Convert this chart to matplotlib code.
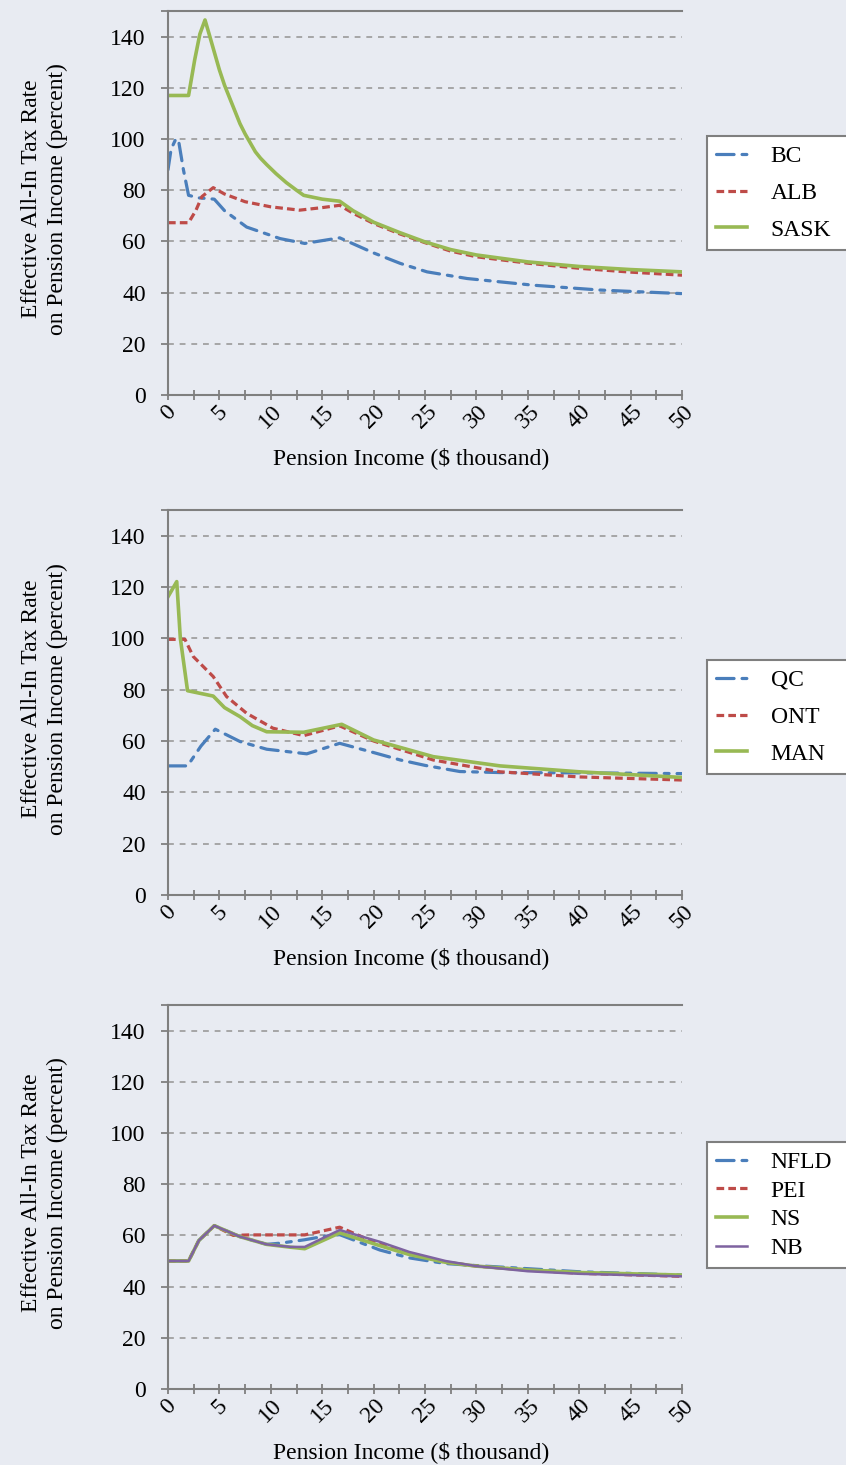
import matplotlib
matplotlib.use("Agg")
import matplotlib.pyplot as plt
import numpy as np

plt.rcParams['font.family'] = ['Liberation Serif', 'DejaVu Serif']

BG = '#e8ebf2'
AXC = '#7f7f7f'
GRID = '#9a9a9a'
BLUE = '#4a7ebb'
RED = '#be4b48'
GREEN = '#98b954'
PURPLE = '#7e63a0'

# ---- Panel 1 data ----
bc_x = [0, 0.3, 0.7, 1.0, 1.5, 2.0, 3.0, 4.5, 5.5, 7.65, 10.9, 13.3, 16.7, 20, 22.6, 25.2, 29.1, 35.5, 42, 50]
bc_y = [88, 96, 99.5, 100, 88, 78, 77, 76.5, 72, 65.6, 61.1, 59.2, 61.4, 55.5, 51.4, 48.1, 45.5, 42.9, 41, 39.6]
alb_x = [0, 2.0, 2.7, 3.3, 4.4, 5.5, 7.5, 10, 12.8, 15, 16.7, 18, 20, 22.5, 25, 27.5, 30, 35, 40, 45, 50]
alb_y = [67.3, 67.3, 72, 77.5, 81, 78.5, 75.5, 73.5, 72.2, 73.2, 74.1, 71, 67, 63, 59.5, 56.2, 54, 51.5, 49.5, 48, 46.8]
sask_x = [0, 2.0, 2.6, 3.1, 3.6, 4.0, 4.5, 5.0, 5.5, 6.0, 6.5, 7.0, 7.5, 8.0, 8.5, 9.0, 9.6, 10.5, 11.5, 12.5, 13.2,
          15, 16.7, 18, 20, 22.5, 25, 27.5, 30, 35, 40, 45, 50]
sask_y = [117, 117, 131, 141, 146.5, 141, 134, 127, 121, 116, 111, 106, 102, 98.5, 95, 92.5, 90, 86.5, 83, 80, 78,
          76.5, 75.7, 72, 67.5, 63.5, 59.8, 56.8, 54.7, 52, 50.2, 49, 48.1]

# ---- Panel 2 data ----
qc_x = [0, 1.9, 3.2, 4.6, 7.0, 9.6, 13.5, 16.7, 20, 22.6, 25, 28.4, 32.3, 40, 50]
qc_y = [50.3, 50.3, 58, 64.6, 59.8, 56.8, 55, 59.1, 55.5, 52.6, 50.5, 48.1, 47.7, 47.6, 47.3]
ont_x = [0, 1.65, 2.46, 4.4, 5.7, 7.65, 10.2, 13.2, 16.7, 20, 25.8, 32.3, 40, 50]
ont_y = [99.6, 99.6, 92.9, 85.1, 77.3, 70.8, 65, 62.1, 65.9, 60, 52.6, 48, 46, 44.8]
man_x = [0, 0.85, 1.2, 1.9, 4.4, 5.5, 7.0, 8.2, 9.6, 13.2, 16.9, 20, 25.8, 32.3, 40, 50]
man_y = [116.2, 122.1, 100, 79.6, 77.5, 73, 69.5, 66, 63.6, 63.4, 66.5, 60.4, 53.9, 50.3, 48, 45.8]

# ---- Panel 3 data ----
nfld_x = [0, 2.0, 3.0, 4.5, 7.0, 9.6, 11, 13.3, 15, 16.7, 20.6, 23.5, 27, 30, 35, 40, 50]
nfld_y = [50, 50, 58, 63.8, 59.5, 56.5, 57, 58.3, 59.5, 60.3, 54.3, 51.2, 49, 48.2, 47, 45.8, 44.5]
pei_x = [0, 2.0, 3.0, 4.5, 6.35, 8, 10, 13.3, 16.7, 20, 23.5, 27, 30, 35, 40, 50]
pei_y = [50, 50, 58, 63.8, 60, 60.2, 60.2, 60.2, 63.2, 57.5, 53, 49.5, 48, 46.5, 45.2, 44]
ns_x = [0, 2.0, 3.0, 4.5, 7.0, 9.6, 11.9, 13.3, 16.7, 20.6, 23.5, 27, 30, 35, 40, 50]
ns_y = [50, 50, 58, 63.8, 59.5, 56.5, 55.4, 54.8, 61, 56, 52.5, 49.5, 48, 46.5, 45.5, 44.5]
nb_x = [0, 2.0, 3.0, 4.5, 7.0, 9.6, 11.9, 13.3, 16.7, 20.6, 23.5, 27, 30, 35, 40, 50]
nb_y = [50, 50, 58, 63.8, 59.5, 56.5, 55.5, 55.5, 62.1, 57.5, 53.5, 50, 48, 46, 45, 44]

x_ticks = np.arange(0, 50.1, 2.5)
x_labels = [str(int(v)) if v % 5 == 0 else '' for v in x_ticks]
y_ticks = [0, 20, 40, 60, 80, 100, 120, 140, 150]
y_labels = ['0', '20', '40', '60', '80', '100', '120', '140', '']

W, H = 846, 1465
fig = plt.figure(figsize=(W / 100, H / 100), dpi=100)
fig.patch.set_facecolor(BG)

LW = 2.3
blue_style = dict(color=BLUE, lw=LW, linestyle=(0, (5.5, 2.5, 1.5, 2.5)), dash_capstyle='round')
red_style = dict(color=RED, lw=LW, linestyle=(0, (2.4, 1.3)), dash_capstyle='butt')
green_style = dict(color=GREEN, lw=LW + 0.3, linestyle='-')
purple_style = dict(color=PURPLE, lw=1.8, linestyle='-')

panels = [
    (11, 395, [(bc_x, bc_y, 'BC', blue_style), (alb_x, alb_y, 'ALB', red_style), (sask_x, sask_y, 'SASK', green_style)], 136, 113, 0.65),
    (510, 895, [(qc_x, qc_y, 'QC', blue_style), (ont_x, ont_y, 'ONT', red_style), (man_x, man_y, 'MAN', green_style)], 660, 113, 0.65),
    (1005, 1389, [(nfld_x, nfld_y, 'NFLD', blue_style), (pei_x, pei_y, 'PEI', red_style), (ns_x, ns_y, 'NS', green_style), (nb_x, nb_y, 'NB', purple_style)], 1142, 123, 0.3),
]

for top, bot, series, leg_top, leg_h, lspace in panels:
    ax = fig.add_axes([168 / W, 1 - bot / H, (682 - 168) / W, (bot - top) / H])
    ax.set_facecolor(BG)
    handles = []
    for xs, ys, name, st in series:
        h, = ax.plot(xs, ys, label=name, **st)
        handles.append(h)
    ax.set_xlim(0, 50)
    ax.set_ylim(0, 150)
    ax.set_xticks(x_ticks)
    ax.set_xticklabels(x_labels, rotation=45, ha='center', va='top', fontsize=17)
    ax.set_yticks(y_ticks)
    ax.set_yticklabels(y_labels, fontsize=17)
    ax.tick_params(axis='x', direction='inout', length=7, width=1.3, color=AXC, pad=1)
    ax.tick_params(axis='y', direction='out', length=5, width=1.3, color=AXC, pad=11)
    ax.yaxis.grid(True, color=GRID, linestyle=(0, (3.5, 3.5)), linewidth=1.2)
    ax.set_axisbelow(True)
    for s in ['left', 'bottom', 'top']:
        ax.spines[s].set_color(AXC)
        ax.spines[s].set_linewidth(1.5)
    ax.spines['right'].set_visible(False)
    ax.set_xlabel('Pension Income ($ thousand)', fontsize=17)
    ax.set_ylabel('Effective All-In Tax Rate\non Pension Income (percent)', fontsize=17, linespacing=1.3)
    ax.xaxis.set_label_coords(0.473, -0.135)
    ax.yaxis.set_label_coords(-0.195, 0.51)
    leg = fig.legend(handles=handles, loc='upper left',
                     bbox_to_anchor=(707 / W, 1 - leg_top / H - leg_h / H, 170 / W, leg_h / H),
                     bbox_transform=fig.transFigure, mode='expand',
                     borderaxespad=0, fontsize=17, handlelength=1.3, handletextpad=1.0,
                     labelspacing=lspace, frameon=True, fancybox=False, borderpad=0.4)
    fr = leg.get_frame()
    fr.set_edgecolor('#7f7f7f')
    fr.set_linewidth(1.5)
    fr.set_facecolor('white')
    fr.set_alpha(1)

fig.savefig('out.png', dpi=100, facecolor=BG)
